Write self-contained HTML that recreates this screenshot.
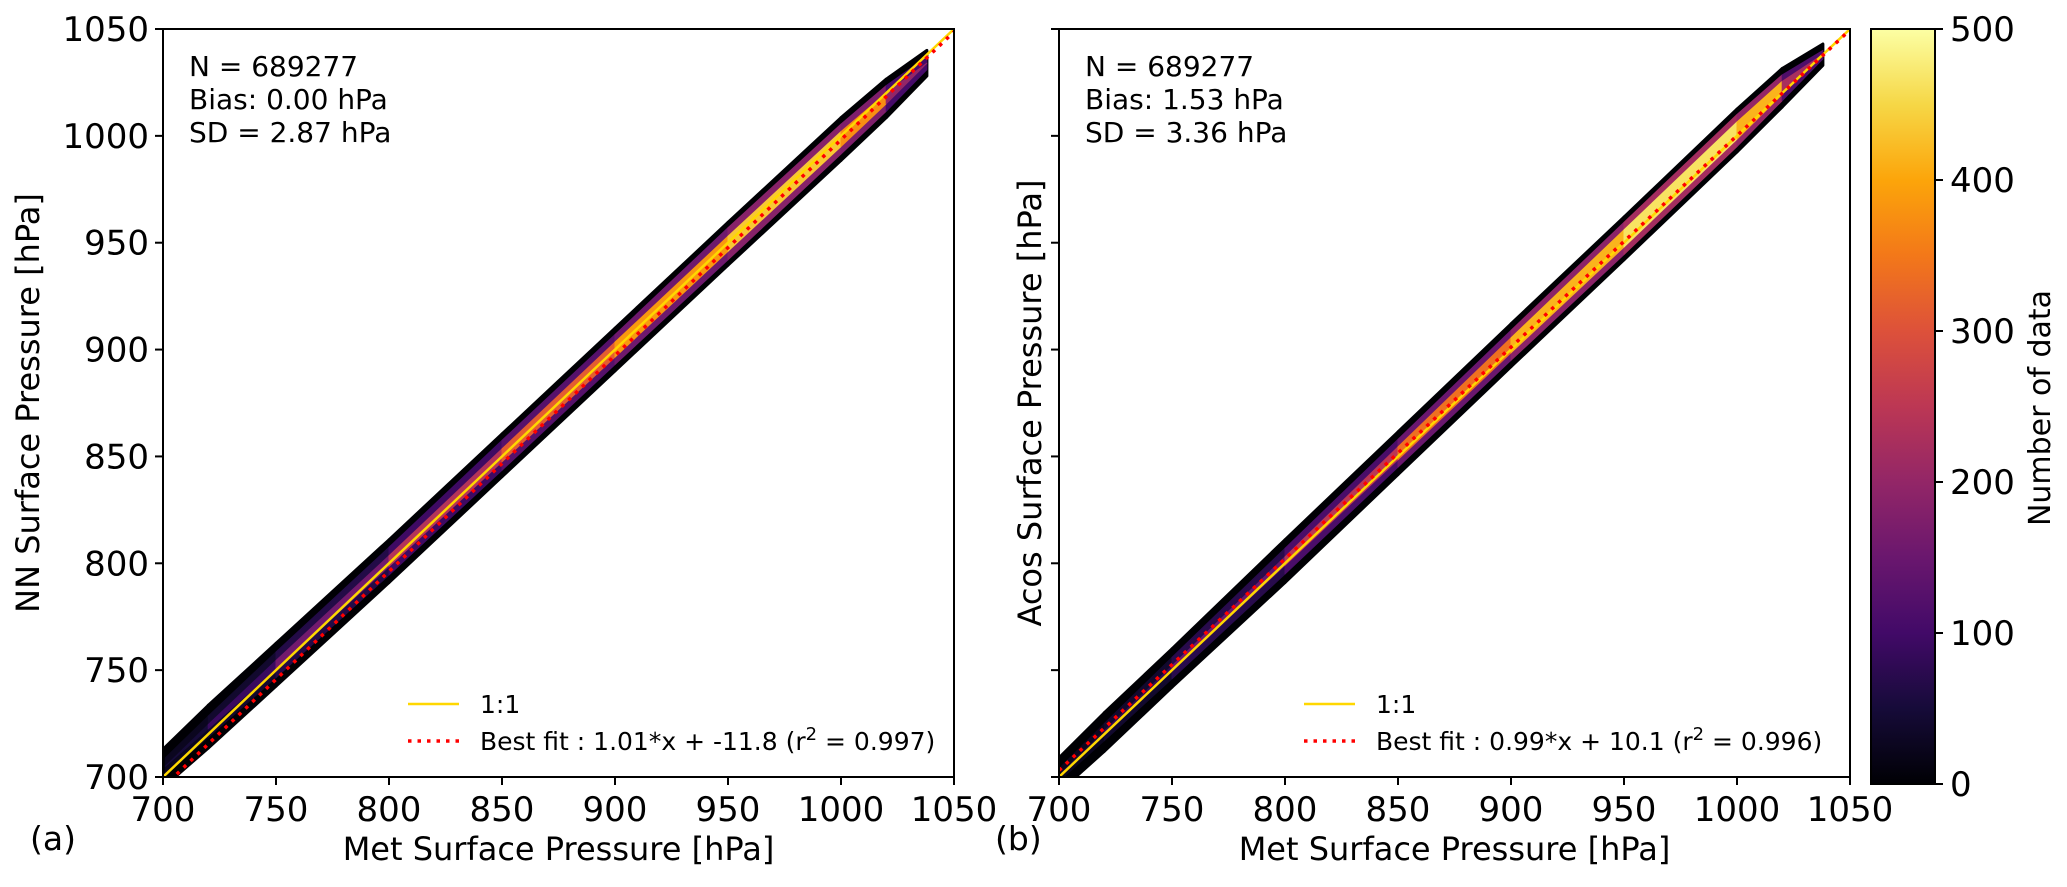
<!DOCTYPE html>
<html><head><meta charset="utf-8">
<style>
html,body{margin:0;padding:0;background:#fff;}
svg{display:block;font-family:"DejaVu Sans","Liberation Sans",sans-serif;}
</style></head>
<body>
<svg id="fig" width="2067" height="887" viewBox="0 0 2067 887" xmlns="http://www.w3.org/2000/svg">
<defs>
<linearGradient id="inferno" x1="0" y1="1" x2="0" y2="0">
<stop offset="0" stop-color="#000004"/><stop offset="0.1" stop-color="#160b39"/><stop offset="0.2" stop-color="#420a68"/><stop offset="0.3" stop-color="#6a176e"/><stop offset="0.4" stop-color="#932667"/><stop offset="0.5" stop-color="#bc3754"/><stop offset="0.6" stop-color="#dd513a"/><stop offset="0.7" stop-color="#f37819"/><stop offset="0.8" stop-color="#fca50a"/><stop offset="0.9" stop-color="#f6d746"/><stop offset="1" stop-color="#fcffa4"/>
</linearGradient>
</defs>
<g id="root"></g>
</svg>
<script>
// ---- data ----
const xTicks = [700,750,800,850,900,950,1000,1050];
const cbTicks = [0,100,200,300,400,500];
const binX = [701,720,750,800,850,900,950,1000,1020,1038];
// panel (a)
const aCenter = [4,3.5,2.5,1,0.5,0,-0.5,-1.5,-2.5,-4];
const aOuter = [9,10,10,10,10,10,10,10,9,6];
const aMid = [4,5,6,6.5,7,7,7.5,7,6,3];
const aMidCount = [20,30,50,80,110,140,170,200,150,60];
const aInner = [0,1,2,2.5,3,3.5,3.5,3.5,2.5,0];
const aInnerCount = [40,60,120,200,280,350,420,450,300,100];
const aFit = [1.01,-11.8];
// panel (b)
const bCenter = [1,1,1,1,1.5,2,2,2.5,2.5,0];
const bOuter = [8,9,9,10,10,10,10,10,9,5];
const bMid = [3,4,5,6,6.5,7,7.5,7.5,6,2];
const bMidCount = [20,30,50,90,130,170,210,230,170,60];
const bInner = [0,0.5,1,2,3,3.5,4,4,3,0];
const bInnerCount = [40,60,100,200,300,380,450,480,350,100];
const bFit = [0.99,10.1];

const NS='http://www.w3.org/2000/svg';
const root=document.getElementById('root');
function el(tag,attrs,parent,text){const e=document.createElementNS(NS,tag);for(const k in attrs)e.setAttribute(k,attrs[k]);if(text!==undefined)e.textContent=text;(parent||root).appendChild(e);return e;}
const stops=[[0,0,0,4],[0.1,22,11,57],[0.2,66,10,104],[0.3,106,23,110],[0.4,147,38,103],[0.5,188,55,84],[0.6,221,81,58],[0.7,243,120,25],[0.8,252,165,10],[0.9,246,215,70],[1,252,255,164]];
function cmap(v){let t=Math.max(0,Math.min(1,v/500));for(let i=1;i<stops.length;i++){if(t<=stops[i][0]){const a=stops[i-1],b=stops[i],f=(t-a[0])/(b[0]-a[0]);return `rgb(${Math.round(a[1]+f*(b[1]-a[1]))},${Math.round(a[2]+f*(b[2]-a[2]))},${Math.round(a[3]+f*(b[3]-a[3]))})`;}}return 'rgb(252,255,164)';}

const AX={top:29,bottom:777,w:791};
function makePanel(left,center,outer,mid,midC,inner,innerC,fit,ylab,letter,showY,stats,fitLabel,pname,labX){
  const g=el('g',{},root);
  
  
  const xs=v=>left+(v-700)/350*AX.w;
  const ys=v=>AX.bottom-(v-700)/350*(AX.bottom-AX.top);
  const clip=el('clipPath',{id:'clip'+letter},g);
  el('rect',{x:left,y:AX.top,width:AX.w,height:AX.bottom-AX.top},clip);
  const dg=el('g',{'clip-path':`url(#clip${letter})`},g);
  function band(halfs,counts,fixed){
    for(let i=0;i<binX.length-1;i++){
      const x0=binX[i],x1=binX[i+1];
      const c0=x0+center[i],c1=x1+center[i+1];
      const h0=halfs[i],h1=halfs[i+1];
      if(h0<=0&&h1<=0)continue;
      const pts=[[x0,c0+h0],[x1,c1+h1],[x1,c1-h1],[x0,c0-h0]].map(p=>xs(p[0]).toFixed(1)+','+ys(p[1]).toFixed(1)).join(' ');
      const col=fixed||cmap((counts[i]+counts[i+1])/2);
      const p=el('polygon',{points:pts,fill:col,stroke:col,'stroke-width':fixed?3:1,'stroke-linejoin':'round'},dg);
      
      
    }
  }
  band(outer,null,'#000004');
  band(mid,midC);
  band(inner,innerC);
  const l1=el('line',{x1:xs(700),y1:ys(700),x2:xs(1050),y2:ys(1050),stroke:'#ffd700','stroke-width':2.5},dg);
  
  
  const lf=el('line',{x1:xs(700),y1:ys(fit[0]*700+fit[1]),x2:xs(1050),y2:ys(fit[0]*1050+fit[1]),stroke:'#ff0000','stroke-width':3.5,'stroke-dasharray':'3.5,6'},dg);
  
  
  const fr=el('rect',{x:left,y:AX.top,width:AX.w,height:AX.bottom-AX.top,fill:'none',stroke:'#000','stroke-width':2},g);
  
  
  xTicks.forEach(v=>{
    el('line',{x1:xs(v),y1:AX.bottom,x2:xs(v),y2:AX.bottom+8,stroke:'#000','stroke-width':2},g);
    const t=el('text',{x:xs(v),y:821,'font-size':34,'text-anchor':'middle'},g,String(v));
    
    
    el('line',{x1:left-8,y1:ys(v),x2:left,y2:ys(v),stroke:'#000','stroke-width':2},g);
    if(showY){
      const ty=el('text',{x:left-14,y:ys(v)+12,'font-size':34,'text-anchor':'end'},g,String(v));
      
      
    }
  });
  const xl=el('text',{x:left+AX.w/2,y:860,'font-size':32,'text-anchor':'middle'},g,'Met Surface Pressure [hPa]');
  
  
  const ycx=left-(showY?135:29);
  const yl=el('text',{x:ycx,y:(AX.top+AX.bottom)/2,'font-size':32,'text-anchor':'middle',transform:`rotate(-90 ${ycx} ${(AX.top+AX.bottom)/2})`,dy:11},g,ylab);
  
  
  const pl=el('text',{x:labX,y:850,'font-size':33},g,'('+letter+')');
  
  
  stats.forEach((s,i)=>{
    const t=el('text',{x:left+26,y:76+i*33,'font-size':28},g,s);
    
    
  });
  const lg=el('g',{},g);
  
  
  el('line',{x1:left+245,y1:704,x2:left+296,y2:704,stroke:'#ffd700','stroke-width':2.5},lg);
  el('text',{x:left+317,y:713,'font-size':25},lg,'1:1');
  el('line',{x1:left+245,y1:741,x2:left+296,y2:741,stroke:'#ff0000','stroke-width':3.5,'stroke-dasharray':'3.5,6'},lg);
  const ft=el('text',{x:left+317,y:750,'font-size':25},lg);
  ft.innerHTML=fitLabel;
}
makePanel(163,aCenter,aOuter,aMid,aMidCount,aInner,aInnerCount,aFit,'NN Surface Pressure [hPa]','a',true,
 ['N = 689277','Bias: 0.00 hPa','SD = 2.87 hPa'],'Best fit : 1.01*x + -11.8 (r<tspan dy="-10" font-size="18">2</tspan><tspan dy="10"> = 0.997)</tspan>','panel-a',30);
makePanel(1059,bCenter,bOuter,bMid,bMidCount,bInner,bInnerCount,bFit,'Acos Surface Pressure [hPa]','b',false,
 ['N = 689277','Bias: 1.53 hPa','SD = 3.36 hPa'],'Best fit : 0.99*x + 10.1 (r<tspan dy="-10" font-size="18">2</tspan><tspan dy="10"> = 0.996)</tspan>','panel-b',995);

const cb=el('g',{},root);


const cbTop=29,cbBot=784,cbL=1871,cbR=1935;
el('rect',{x:cbL,y:cbTop,width:cbR-cbL,height:cbBot-cbTop,fill:'url(#inferno)',stroke:'#000','stroke-width':2},cb);
cbTicks.forEach(v=>{
  const y=cbBot-v/500*(cbBot-cbTop);
  el('line',{x1:cbR,y1:y,x2:cbR+8,y2:y,stroke:'#000','stroke-width':2},cb);
  const t=el('text',{x:cbR+15,y:y+12,'font-size':34},cb,String(v));
  
  
});
const cl=el('text',{x:2040,y:408,'font-size':30,'text-anchor':'middle',transform:'rotate(-90 2040 408)',dy:10},cb,'Number of data');


</script>
</body></html>
